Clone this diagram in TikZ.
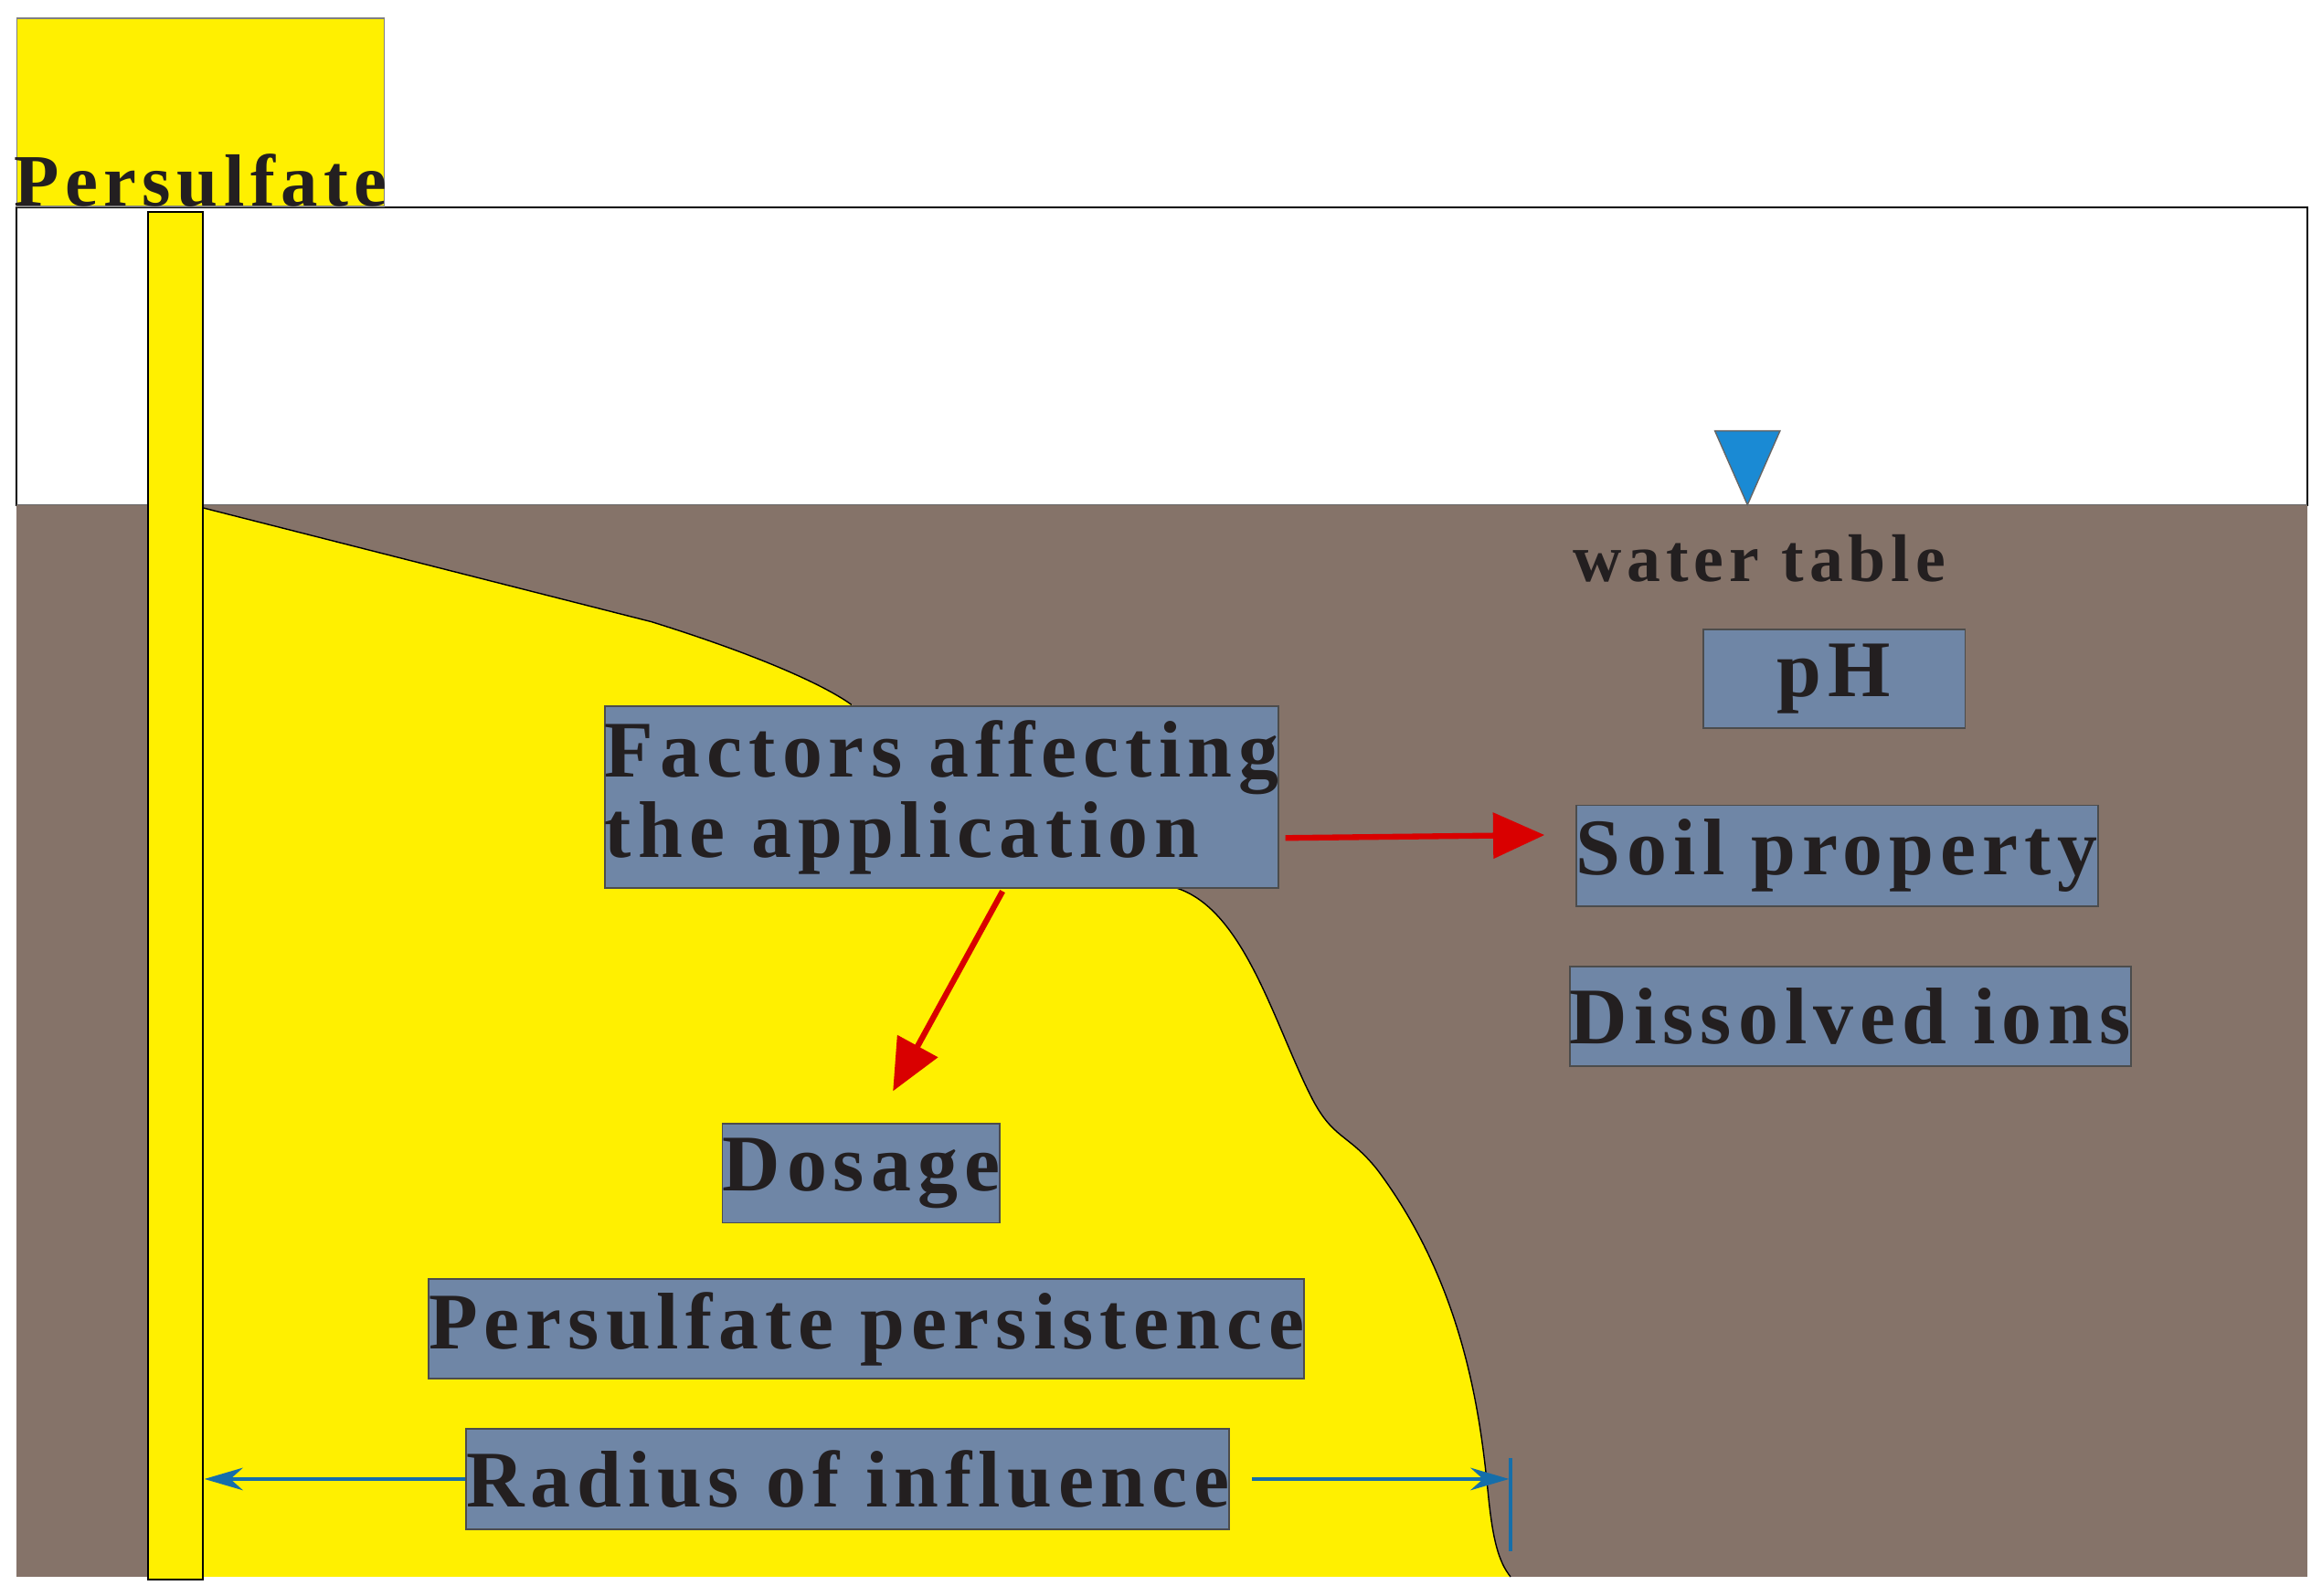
\documentclass[tikz,border=0pt]{standalone}
\usepackage{fontspec}
\setmainfont{Liberation Serif}
\usetikzlibrary{arrows.meta}
\definecolor{soil}{HTML}{857369}
\definecolor{boxc}{HTML}{6F86A6}
\definecolor{ylw}{HTML}{FFF000}
\definecolor{txt}{HTML}{231F20}
\definecolor{wblue}{HTML}{1A8AD4}
\begin{document}
\begin{tikzpicture}[x=0.016205cm,y=-0.016205cm,
 lab/.style={draw=black!70,fill=boxc,line width=0.5pt,inner sep=0pt,text=txt,font=\bfseries\fontsize{25}{27}\selectfont\addfontfeature{LetterSpace=8}},
 redarr/.style={draw=red!85!black,line width=1.8pt,-{Triangle[length=16pt,width=14pt]}},
 bluearr/.style={draw=wblue!80!black,line width=1pt,-{Stealth[length=12pt,width=7pt]}}]
\useasboundingbox (0,0) rectangle (1568,1078);
\fill[white] (0,0) rectangle (1568,1078);
% upper zone
\draw[black,line width=0.5pt] (11,140) rectangle (1558,341);
\fill[soil] (11,341) rectangle (1558,1065);
\draw[black!60,line width=0.4pt] (11,341) -- (1558,341);
% plume
\fill[ylw] (137,343) -- (440,420) .. controls (520,445) and (560,465) .. (575,476)
 -- (795,600) .. controls (840,615) and (860,690) .. (885,740)
 .. controls (900,770) and (910,765) .. (930,790)
 .. controls (990,870) and (1000,960) .. (1005,1010)
 .. controls (1008,1040) and (1012,1055) .. (1020,1065) -- (137,1065) -- cycle;
\draw[black,line width=0.4pt] (137,343) -- (440,420) .. controls (520,445) and (560,465) .. (575,476);
\draw[black,line width=0.4pt] (795,600) .. controls (840,615) and (860,690) .. (885,740)
 .. controls (900,770) and (910,765) .. (930,790)
 .. controls (990,870) and (1000,960) .. (1005,1010)
 .. controls (1008,1040) and (1012,1055) .. (1020,1065);
% persulfate box
\node[draw=black!50,fill=ylw,minimum width=248\pgflinewidth,inner sep=0pt,anchor=north west,text=txt,
 font=\bfseries\fontsize{23}{25}\selectfont\addfontfeature{LetterSpace=8}] (ps) at (11,12)
 {\rule{0pt}{2.05cm}\makebox[4.02cm]{Persulfate}};
% well
\draw[black,fill=ylw,line width=0.6pt] (100,143) rectangle (137,1067);
% water table
\draw[black!60,fill=wblue,line width=0.4pt] (1158,291) -- (1202,291) -- (1180,341) -- cycle;
\node[text=txt,font=\bfseries\fontsize{21}{23}\selectfont\addfontfeature{LetterSpace=8}] (wt) at (1188,377) {water table};
% boxes
\node[lab,minimum width=177*0.016205cm,minimum height=67*0.016205cm] (ph) at (1238.5,458.5) {pH};
\node[lab,minimum width=323*0.016205cm,minimum height=68*0.016205cm] (soil) at (1240.5,578) {Soil property};
\node[lab,minimum width=345*0.016205cm,minimum height=67*0.016205cm] (ions) at (1249.5,686.5) {Dissolved ions};
\node[lab,minimum width=454*0.016205cm,minimum height=123*0.016205cm,align=left] (fac) at (636,538.5) {Factors affecting\\[-2pt]the application};
\node[lab,minimum width=177*0.016205cm,minimum height=67*0.016205cm] (dos) at (581.5,792.5) {Dosage};
\node[lab,minimum width=556*0.016205cm,minimum height=67*0.016205cm] (per) at (585,897.5) {Persulfate persistence};
\node[lab,minimum width=455*0.016205cm,minimum height=68*0.016205cm] (rad) at (572.5,999) {Radius of influence};
% red arrows
\coordinate (r1) at (1043,564);
\coordinate (r2) at (603,737);
\draw[redarr] (868,566) -- (r1);
\draw[redarr] (677,602) -- (r2);
% dimension
\coordinate (dl) at (138,999);
\coordinate (dr) at (1019,999);
\draw[bluearr] (rad.west) -- (dl);
\draw[bluearr] ([xshift=0.24cm]rad.east) -- (dr);
\draw[wblue!80!black,line width=1pt] (1020,985) -- (1020,1048);
\end{tikzpicture}
\end{document}
